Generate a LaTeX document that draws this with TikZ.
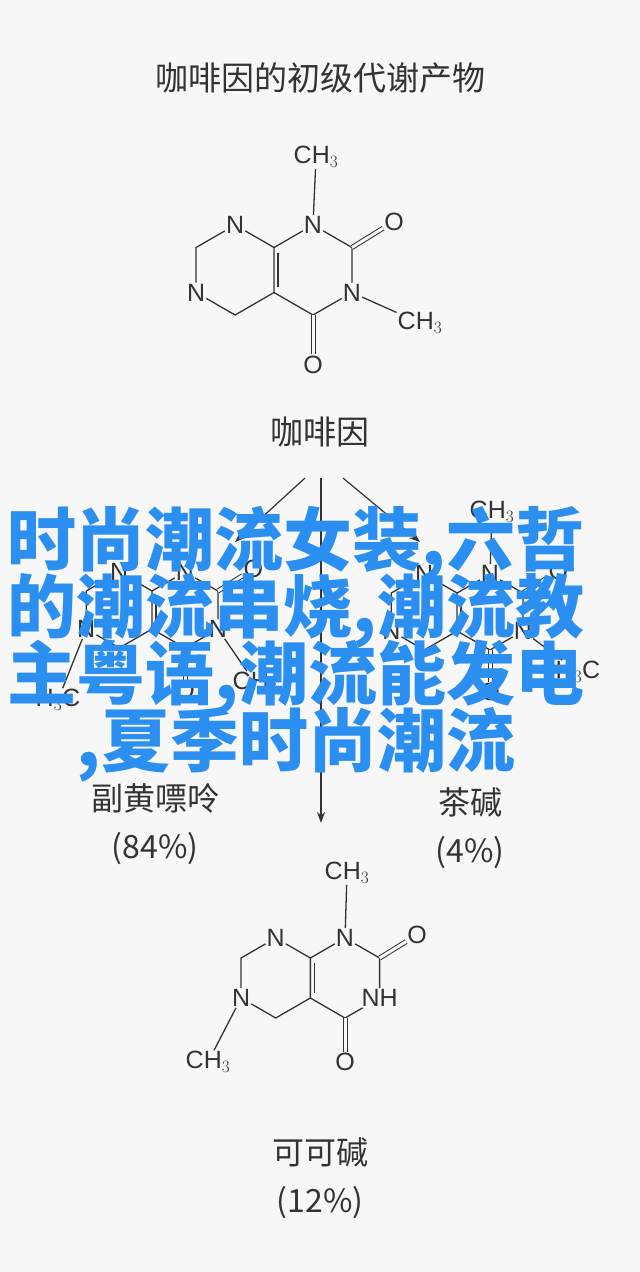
\documentclass[tikz,border=0pt]{standalone}
\usepackage{fontspec}
\setmainfont{Liberation Sans}
\newfontfamily\cjk{Noto Sans CJK SC}
\usetikzlibrary{calc,positioning,arrows.meta}
\definecolor{paper}{HTML}{F7F7F7}
\definecolor{ink}{HTML}{333333}
\definecolor{stamp}{HTML}{2A8FF0}

% one xanthine skeleton: #1 prefix, #2 centre of the right ring, #3 bond, #4 text at N3
\newcommand\xanthine[4]{%
\begin{scope}[shift={#2}]
\node[atom] (#1n1) at (0,-#3) {N};
\coordinate (#1c2) at ({0.866*#3},{-0.5*#3});
\node[atom] (#1n3) at ({0.866*#3},{0.5*#3}) {#4};
\coordinate (#1c4) at (0,#3);
\coordinate (#1c5) at ({-0.866*#3},{0.5*#3});
\coordinate (#1c6) at ({-0.866*#3},{-0.5*#3});
\node[atom] (#1n7) at ({-1.732*#3},-#3) {N};
\coordinate (#1c8) at ({-2.598*#3},{-0.5*#3});
\node[atom] (#1n9) at ({-2.598*#3},{0.5*#3}) {N};
\coordinate (#1c10) at ({-1.732*#3},#3);
\node[atom] (#1o2) at ({1.8*#3},{-1.08*#3}) {O};
\node[atom] (#1o4) at (0,{2.1*#3}) {O};
\draw[bond] (#1n1) -- (#1c2) -- (#1n3) -- (#1c4) -- (#1c5) -- (#1c6) -- (#1n1);
\draw[bond] (#1c6) -- (#1n7) -- (#1c8) -- (#1n9) -- (#1c10) -- (#1c5);
\draw[bond] ($(#1c5)!0.12!(#1c6)+(4,0)$) -- ($(#1c6)!0.12!(#1c5)+(4,0)$);
\draw[dbond] (#1c2) -- (#1o2);
\draw[dbond] (#1c4) -- (#1o4);
\end{scope}}
\newcommand\stampfont{\cjk\bfseries\fontsize{69}{67}\selectfont\lineskiplimit=-100pt\relax}

\begin{document}
\begin{tikzpicture}[x=1pt,y=-1pt,
  atom/.style={font=\fontsize{25}{25}\selectfont,text=ink,inner sep=1pt},
  bond/.style={draw=ink,line width=1.3pt},
  dbond/.style={draw=ink,line width=1pt,double=paper,double distance=3pt},
  title/.style={font=\cjk\fontsize{33}{33}\selectfont,text=ink},
  label/.style={font=\cjk\fontsize{32}{48}\selectfont,text=ink,align=center},
  path/.style={draw=ink,line width=1.2pt,-{Stealth[length=11pt,width=8pt]}}]
\fill[paper] (0,0) rectangle (640,1272);
\useasboundingbox (0,0) rectangle (640,1272);

\node[title] (head) at (320,78) {咖啡因的初级代谢产物};

% caffeine
\xanthine{caf}{(313,270)}{45}{N}
\node[atom] (cafm1) at (316,157) {CH$_3$};
\node[atom] (cafm3) at (420,323) {CH$_3$};
\draw[bond] (cafn1) -- (cafm1);
\draw[bond] (cafn3) -- (cafm3);
\node[title] (caf) at (320,432) {咖啡因};

% three paths
\coordinate (sl) at (305,478);
\coordinate (sm) at (321,478);
\coordinate (sr) at (343,478);
\coordinate (tl) at (235,542);
\coordinate (tm) at (321,823);
\coordinate (tr) at (420,542);
\draw[path] (sl) -- (tl);
\draw[path] (sm) -- (tm);
\draw[path] (sr) -- (tr);

% paraxanthine
\xanthine{par}{(185,610)}{38}{N}
\node[atom] (parm3) at (255,683) {CH$_3$};
\node[atom] (parm9) at (58,700) {H$_3$C};
\draw[bond] (parn3) -- (parm3);
\draw[bond] (parn9) -- (parm9);
\node[label] (parname) at (155,824) {副黄嘌呤\\(84\%)};

% theophylline
\xanthine{the}{(490,612)}{38}{N}
\node[atom] (them1) at (492,512) {CH$_3$};
\node[atom] (them3) at (578,672) {H$_3$C};
\draw[bond] (then1) -- (them1);
\draw[bond] (then3) -- (them3);
\node[label] (thename) at (470,828) {茶碱\\(4\%)};

% theobromine
\xanthine{tbr}{(345,978)}{40}{NH}
\node[atom] (tbrm1) at (347,873) {CH$_3$};
\node[atom] (tbrm9) at (208,1062) {CH$_3$};
\draw[bond] (tbrn1) -- (tbrm1);
\draw[bond] (tbrn9) -- (tbrm9);
\node[label] (tbrname) at (320,1178) {可可碱\\(12\%)};

% overprint
\node[font=\stampfont,text=stamp,align=center] (stamp) at (296,644)
  {时尚潮流女装,六哲\\的潮流串烧,潮流教\\主粤语,潮流能发电\\,夏季时尚潮流};
\end{tikzpicture}
\end{document}
